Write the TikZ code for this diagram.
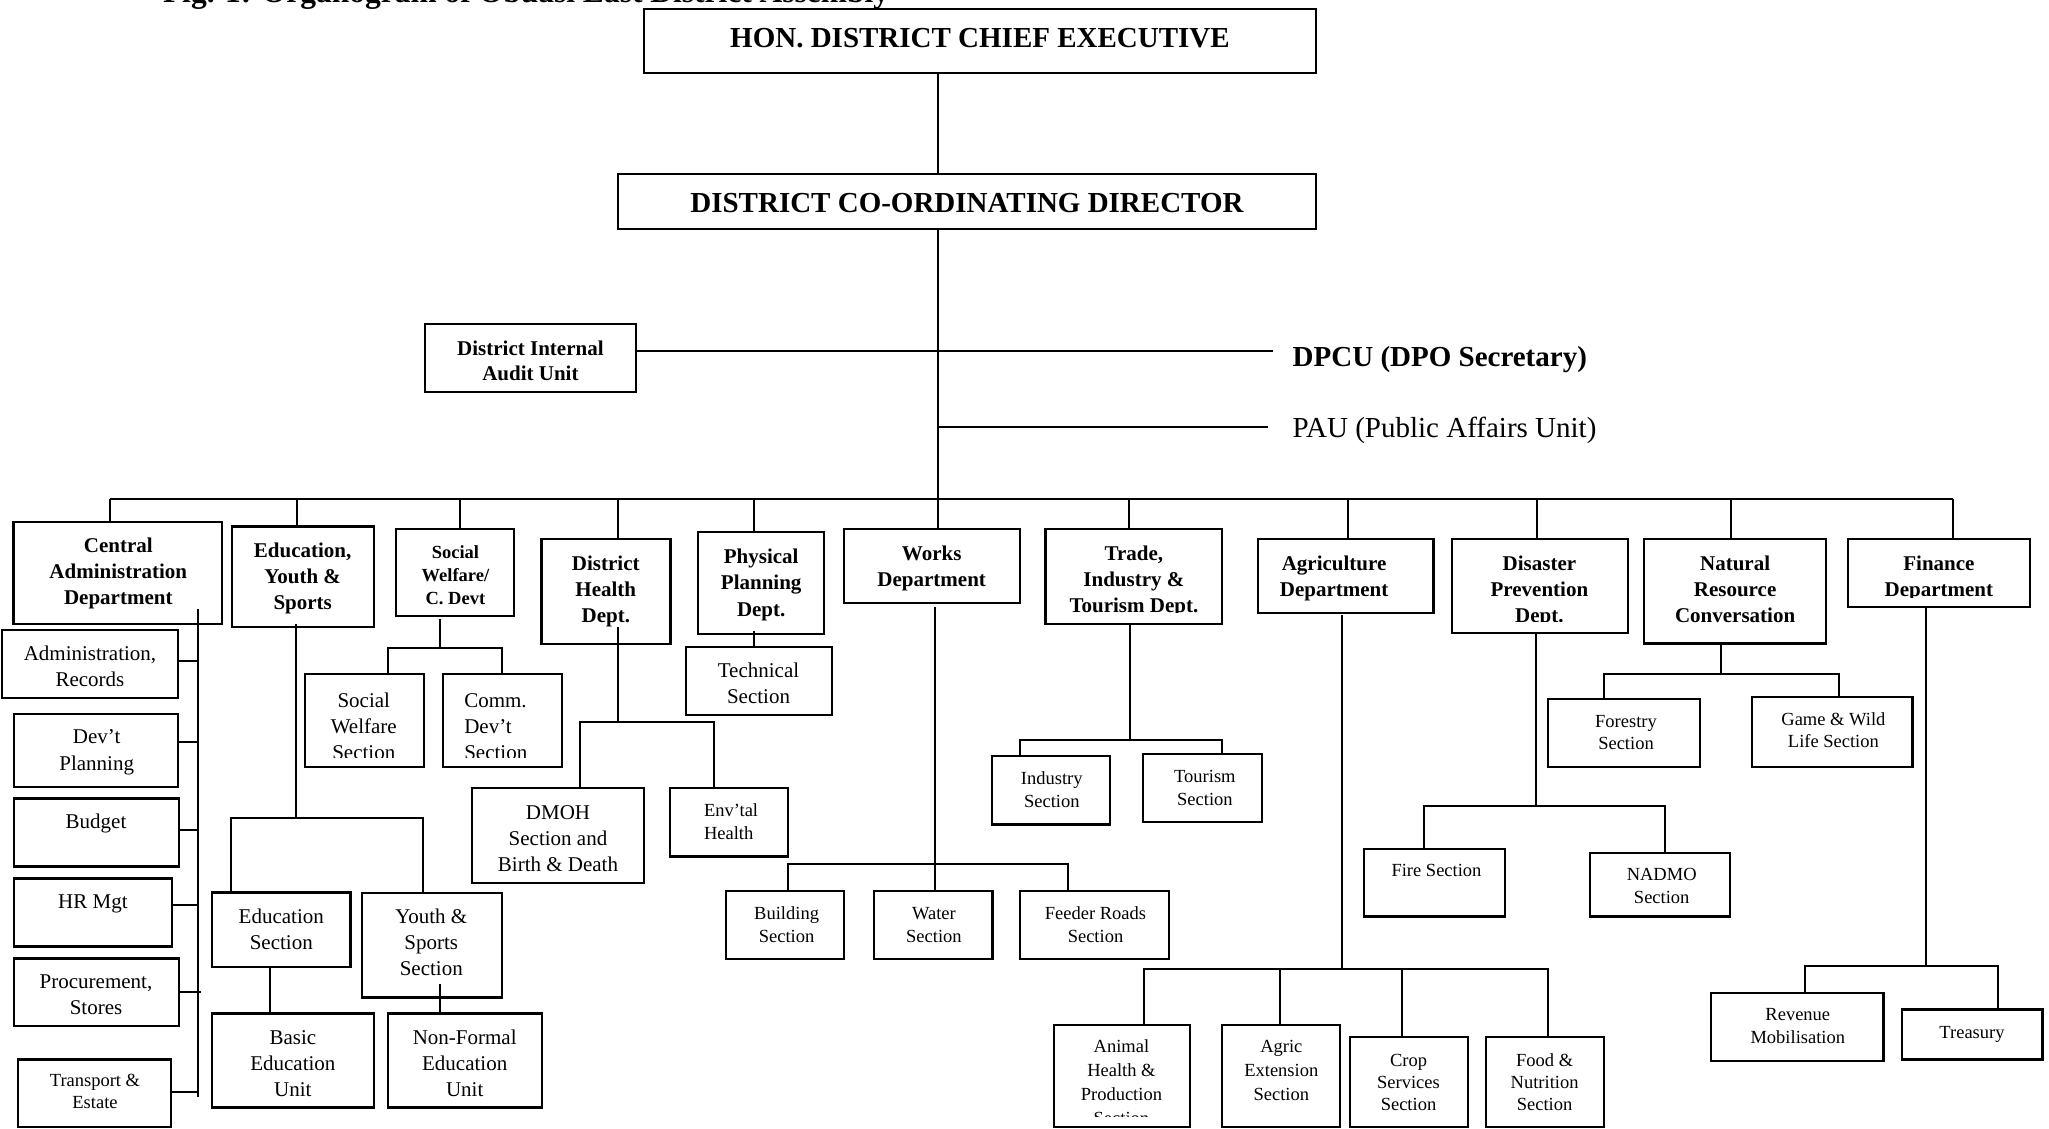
\documentclass[tikz,border=0pt]{standalone}
\usepackage{fontspec}
\setmainfont{Liberation Serif}
\tikzset{
  obox/.style={draw=black, line width=2.2pt, inner sep=0pt, outer sep=0pt, rectangle},
  txt/.style={inner sep=0pt, outer sep=0pt, text=black},
  ln/.style={line width=2pt, draw=black},
  busline/.style={line width=2.6pt, draw=black},
}
% box: name, x1, y1, x2, y2 (pixel coordinates, y downward)
\newcommand\bx[5]{\node[obox, minimum width={(#4)-(#2)}, minimum height={(#5)-(#3)}] (#1) at ({((#2)+(#4))/2},{((#3)+(#5))/2}) {};}
% centred text: name, series, size, pitch, x, first baseline, text
\newcommand\tc[7]{\node[txt, anchor=north, align=center, font={#2\fontsize{#3}{#4}\selectfont}, yshift={0.8*(#3)}] (#1) at (#5,#6) {\rule{0pt}{0.8em}#7};}
% left aligned text
\newcommand\tlft[7]{\node[txt, anchor=north west, align=left, font={#2\fontsize{#3}{#4}\selectfont}, yshift={0.8*(#3)}] (#1) at (#5,#6) {\rule{0pt}{0.8em}#7};}
\begin{document}
\begin{tikzpicture}[x=1pt,y=-1pt]
\useasboundingbox[fill=white] (0,0) rectangle (2049,1128);

% title (cut at the top edge)
\node[txt, anchor=base west, font={\bfseries\fontsize{31.5}{36}\selectfont}] (title) at (163,2.5) {Fig. 1: Organogram of Obuasi East District Assembly};

% ---------- boxes ----------
\bx{hon}{644}{9}{1316}{73}
\bx{dcd}{618}{174}{1316}{229}
\bx{audit}{425}{324}{636}{392}
\bx{cad}{13.4}{521.7}{221.8}{624}
\bx{eys}{231.7}{526.4}{374.1}{626.6}
\bx{swcd}{396}{529.2}{514.3}{616.1}
\bx{dhd}{541.5}{538.8}{670.5}{644.2}
\bx{ppd}{698.2}{532}{824.1}{633.8}
\bx{works}{843.8}{529.2}{1020}{603.3}
\bx{trade}{1045.5}{529.2}{1222.3}{623.7}
\bx{agri}{1257.6}{538.8}{1433.4}{613.3}
\bx{dpd}{1451.8}{538.8}{1628.1}{633}
\bx{nrc}{1643.9}{538.8}{1825.8}{643.4}
\bx{fin}{1847.7}{538.8}{2029.6}{607.3}
\bx{adm}{2}{630.3}{178.3}{698.3}
\bx{dev}{14.3}{714.3}{178.3}{786.7}
\bx{bud}{14.3}{798.4}{178.6}{866.4}
\bx{hrm}{14.3}{878.5}{171.9}{946.5}
\bx{pro}{14.3}{958.5}{178.6}{1025.8}
\bx{tra}{17.9}{1059.5}{171}{1126.8}
\bx{swsec}{305}{674}{424}{767}
\bx{cdsec}{443.3}{674}{561.6}{767}
\bx{edsec}{212}{892.5}{350.4}{966.6}
\bx{yssec}{361.6}{893.3}{501.8}{997.4}
\bx{basic}{212}{1013.4}{374.1}{1107.5}
\bx{nonf}{388}{1013.4}{542}{1107.5}
\bx{dmoh}{471.9}{788.3}{644.2}{883.3}
\bx{env}{670}{788.3}{788}{856.4}
\bx{tech}{685.7}{647}{831.7}{715}
\bx{bld}{725.9}{891.3}{844.2}{959}
\bx{wat}{874}{891.3}{992.4}{959}
\bx{fdr}{1020}{891.3}{1169.2}{959}
\bx{ind}{992}{756.3}{1110.3}{824.4}
\bx{tou}{1143.3}{754}{1261.6}{821.6}
\bx{ani}{1053.6}{1025}{1189.7}{1127.3}
\bx{agx}{1221.9}{1025}{1339.7}{1127.3}
\bx{crp}{1350}{1037.3}{1468.3}{1127.3}
\bx{fod}{1485.7}{1037.3}{1604}{1127.3}
\bx{fir}{1363.6}{848.8}{1505.3}{916.5}
\bx{nad}{1589.9}{852.8}{1730}{916.5}
\bx{for}{1548.1}{699}{1700}{767.1}
\bx{gam}{1751.9}{697}{1912.4}{767.1}
\bx{rev}{1711.2}{992.6}{1883.4}{1060.7}
\bx{tre}{1901.7}{1009.4}{2042.4}{1059.5}

% ---------- texts ----------
\node[txt, anchor=base, font={\bfseries\fontsize{29}{34}\selectfont}] (hon-t) at (980,47.3) {HON. DISTRICT CHIEF EXECUTIVE};
\node[txt, anchor=base, font={\bfseries\fontsize{29}{34}\selectfont}] (dcd-t) at (967,212.7) {DISTRICT CO-ORDINATING DIRECTOR};
\node[txt, anchor=base west, font={\bfseries\fontsize{29}{34}\selectfont}] (dpcu) at (1292.7,366) {DPCU (DPO Secretary)};
\node[txt, anchor=base west, font={\fontsize{29}{34}\selectfont}] (pau) at (1292.7,437.7) {PAU (Public Affairs Unit)};
\tc{audit-t}{\bfseries}{21}{25}{530.4}{355}{District Internal\\Audit Unit}

\tc{cad-t}{\bfseries}{21}{26.3}{118.3}{552.3}{Central\\Administration\\Department}
\tc{eys-t}{\bfseries}{21}{26.3}{302.7}{557.3}{Education,\\Youth \&\\Sports}
\tc{swcd-t}{\bfseries}{18.5}{22.6}{455.4}{558.9}{Social\\Welfare/\\C. Devt}
\tc{dhd-t}{\bfseries}{21}{26}{605.8}{570}{District\\Health\\Dept.}
\tc{ppd-t}{\bfseries}{21}{26.4}{761.2}{563.3}{Physical\\Planning\\Dept.}
\tc{works-t}{\bfseries}{21}{26}{931.7}{560}{Works\\Department}
\begin{scope}
\clip ([yshift=11pt]trade.south west) rectangle (trade.north east);
\tc{trade-t}{\bfseries}{21}{26}{1133.9}{560}{Trade,\\Industry \&\\Tourism Dept.}
\end{scope}
\tc{agri-t}{\bfseries}{21}{26}{1334.1}{570}{Agriculture\\Department}
\begin{scope}
\clip ([yshift=12pt]dpd.south west) rectangle (dpd.north east);
\tc{dpd-t}{\bfseries}{21}{26}{1539.4}{570}{Disaster\\Prevention\\Dept.}
\end{scope}
\tc{nrc-t}{\bfseries}{21}{26}{1735.1}{570}{Natural\\Resource\\Conversation}
\begin{scope}
\clip ([yshift=10pt]fin.south west) rectangle (fin.north east);
\tc{fin-t}{\bfseries}{21}{26}{1938.9}{570}{Finance\\Department}
\end{scope}

\tc{adm-t}{}{21}{26}{90}{660.7}{Administration,\\Records}
\tc{dev-t}{}{21}{26.7}{96.7}{743.3}{Dev’t\\Planning}
\tc{bud-t}{}{21}{26}{96}{828.4}{Budget}
\tc{hrm-t}{}{21}{26}{92.9}{908.5}{HR Mgt}
\tc{pro-t}{}{21}{26}{96}{988.6}{Procurement,\\Stores}
\tc{tra-t}{}{18.5}{22}{95}{1086.7}{Transport \&\\Estate}
\begin{scope}
\clip ([yshift=10pt]swsec.south west) rectangle (swsec.north east);
\tc{swsec-t}{}{21}{26}{363.8}{707}{Social\\Welfare\\Section}
\end{scope}
\begin{scope}
\clip ([yshift=10pt]cdsec.south west) rectangle (cdsec.north east);
\tlft{cdsec-t}{}{21}{26}{464.3}{707}{Comm.\\Dev’t\\Section}
\end{scope}
\tc{edsec-t}{}{21}{26}{281.3}{923.3}{Education\\Section}
\tc{yssec-t}{}{21}{26.3}{431.3}{923.3}{Youth \&\\Sports\\Section}
\tc{basic-t}{}{21}{26}{292.9}{1044.7}{Basic\\Education\\Unit}
\tc{nonf-t}{}{21}{26}{464.7}{1044.7}{Non-Formal\\Education\\Unit}
\tc{dmoh-t}{}{21}{26.2}{558}{819.2}{DMOH\\Section and\\Birth \& Death}
\tc{tech-t}{}{21}{26}{758.5}{677.4}{Technical\\Section}
\tlft{env-t}{}{18.5}{23.2}{704}{816.4}{Env’tal\\Health}
\tc{ind-t}{}{18.5}{23.3}{1051.8}{784.3}{Industry\\Section}
\tc{tou-t}{}{18.5}{23}{1204.9}{782.3}{Tourism\\Section}
\tc{bld-t}{}{18.5}{23.2}{786.6}{919.3}{Building\\Section}
\tc{wat-t}{}{18.5}{23.2}{933.9}{919.3}{Water\\Section}
\tc{fdr-t}{}{18.5}{23.2}{1095.5}{919.3}{Feeder Roads\\Section}
\tc{for-t}{}{18.5}{22.4}{1626}{727.1}{Forestry\\Section}
\tc{gam-t}{}{18.5}{22.4}{1833.4}{725.1}{Game \& Wild\\Life Section}
\tc{fir-t}{}{18.5}{23}{1436.5}{876.5}{Fire Section}
\tc{nad-t}{}{18.5}{23.2}{1661.7}{880.5}{NADMO\\Section}
\tc{rev-t}{}{18.5}{23.2}{1797.8}{1020.6}{Revenue\\Mobilisation}
\tc{tre-t}{}{18.5}{23}{1972}{1038.6}{Treasury}
\begin{scope}
\clip ([yshift=11pt]ani.south west) rectangle (ani.north east);
\tc{ani-t}{}{18.5}{24}{1121.4}{1052.7}{Animal\\Health \&\\Production\\Section}
\end{scope}
\tc{agx-t}{}{18.5}{24}{1281.3}{1052.7}{Agric\\Extension\\Section}
\tc{crp-t}{}{18.5}{22}{1408.5}{1066.7}{Crop\\Services\\Section}
\tc{fod-t}{}{18.5}{22}{1544.6}{1066.7}{Food \&\\Nutrition\\Section}

% ---------- connectors ----------
% main spine and bus
\coordinate (b1) at (109.8,499);
\coordinate (b2) at (296.7,499);
\coordinate (b3) at (460,499);
\coordinate (b4) at (618.3,499);
\coordinate (b5) at (754.2,499);
\coordinate (b6) at (937.5,499);
\coordinate (b7) at (1129.2,499);
\coordinate (b8) at (1347.5,499);
\coordinate (b9) at (1536.9,499);
\coordinate (b10) at (1730.5,499);
\coordinate (b11) at (1952.9,499);
\draw[ln] (hon.south -| b6) -- (dcd.north -| b6);
\draw[ln] (dcd.south -| b6) -- (b6);
\draw[busline] (b1) -- (b11);
\draw[ln] (b1) -- (b1 |- cad.north);
\draw[ln] (b2) -- (b2 |- eys.north);
\draw[ln] (b3) -- (b3 |- swcd.north);
\draw[ln] (b4) -- (b4 |- dhd.north);
\draw[ln] (b5) -- (b5 |- ppd.north);
\draw[ln] (b6) -- (b6 |- works.north);
\draw[ln] (b7) -- (b7 |- trade.north);
\draw[ln] (b8) -- (b8 |- agri.north);
\draw[ln] (b9) -- (b9 |- dpd.north);
\draw[ln] (b10) -- (b10 |- nrc.north);
\draw[ln] (b11) -- (b11 |- fin.north);

% audit, DPCU, PAU
\coordinate (dpcuL) at (1272.7,350.7);
\coordinate (pauL) at (1268,427.3);
\draw[ln] (audit.east |- dpcuL) -- (dpcuL);
\draw[ln] (pauL -| b6) -- (pauL);

% central administration
\coordinate (caT) at (197.5,609.3);
\coordinate (caB) at (197.5,1096.7);
\draw[ln] (caT) -- (caB);
\coordinate (admS) at ([yshift=3.6pt]adm.east);
\coordinate (devS) at ([yshift=8.2pt]dev.east);
\coordinate (budS) at ([yshift=2.4pt]bud.east);
\coordinate (hrmS) at ([yshift=7.5pt]hrm.east);
\coordinate (proS) at (pro.east);
\coordinate (proE) at ([xshift=22pt]pro.east);
\coordinate (traS) at ([yshift=1pt]tra.east);
\draw[ln] (admS) -- (admS -| caT);
\draw[ln] (devS) -- (devS -| caT);
\draw[ln] (budS) -- (budS -| caT);
\draw[ln] (hrmS) -- (hrmS -| caT);
\draw[ln] (proS) -- (proE);
\draw[ln] (traS) -- (traS -| caT);

% education, youth & sports
\coordinate (eyT) at (295.5,624);
\coordinate (eyL) at (230.8,818.4);
\coordinate (eyR) at (423.2,818.4);
\draw[ln] (eyT) -- (eyT |- eyL);
\draw[ln] (eyL |- edsec.north) -- (eyL) -- (eyR) -- (eyR |- yssec.north);
\coordinate (edB) at ([xshift=-11.6pt]edsec.south);
\draw[ln] (edB) -- (edB |- basic.north);
\coordinate (ysB) at ([xshift=8pt,yshift=13.6pt]yssec.south);
\draw[ln] (ysB) -- (ysB |- nonf.north);

% social welfare
\coordinate (swT) at (439.7,619);
\coordinate (swL) at (388,648);
\coordinate (swR) at (502,648);
\draw[ln] (swT) -- (swT |- swL);
\draw[ln] (swL |- swsec.north) -- (swL) -- (swR) -- (swR |- cdsec.north);

% district health
\coordinate (dhT) at (618.3,626.6);
\coordinate (dhL) at (580.4,722.3);
\coordinate (dhR) at (713.8,722.3);
\draw[ln] (dhT) -- (dhT |- dhL);
\draw[ln] (dhL |- dmoh.north) -- (dhL) -- (dhR) -- (dhR |- env.north);

% physical planning
\coordinate (ppB) at (754,631);
\draw[ln] (ppB) -- (ppB |- tech.north);

% works
\coordinate (wkT) at (935.3,607);
\coordinate (wkL) at (788,864.4);
\coordinate (wkR) at (1067.9,864.4);
\draw[ln] (wkT) -- (wkT |- wat.north);
\draw[ln] (wkL |- bld.north) -- (wkL) -- (wkR) -- (wkR |- fdr.north);

% trade
\coordinate (trT) at (1130,623.7);
\coordinate (trL) at (1020,739.5);
\coordinate (trR) at (1222,739.5);
\draw[ln] (trT) -- (trT |- trL);
\draw[ln] (trL |- ind.north) -- (trL) -- (trR) -- (trR |- tou.north);

% agriculture
\coordinate (agT) at (1341.7,614.5);
\coordinate (agL) at (1143.8,969);
\coordinate (agR) at (1547.8,969);
\coordinate (ag2) at (1279.9,969);
\coordinate (ag3) at (1401.8,969);
\draw[ln] (agT) -- (agT |- agL);
\draw[ln] (agL |- ani.north) -- (agL) -- (agR) -- (agR |- fod.north);
\draw[ln] (ag2) -- (ag2 |- agx.north);
\draw[ln] (ag3) -- (ag3 |- crp.north);

% disaster prevention
\coordinate (dpT) at (1535.9,633);
\coordinate (dpL) at (1424.3,805.6);
\coordinate (dpR) at (1665.3,805.6);
\draw[ln] (dpT) -- (dpT |- dpL);
\draw[ln] (dpL |- fir.north) -- (dpL) -- (dpR) -- (dpR |- nad.north);

% natural resource
\coordinate (nrT) at (1721.3,643.4);
\coordinate (nrL) at (1604.1,674.2);
\coordinate (nrR) at (1838.5,674.2);
\draw[ln] (nrT) -- (nrT |- nrL);
\draw[ln] (nrL |- for.north) -- (nrL) -- (nrR) -- (nrR |- gam.north);

% finance
\coordinate (fnT) at (1926.2,607.3);
\coordinate (fnL) at (1805.4,965.8);
\coordinate (fnR) at (1998,965.8);
\draw[ln] (fnT) -- (fnT |- fnL);
\draw[ln] (fnL |- rev.north) -- (fnL) -- (fnR) -- (fnR |- tre.north);
\end{tikzpicture}
\end{document}
